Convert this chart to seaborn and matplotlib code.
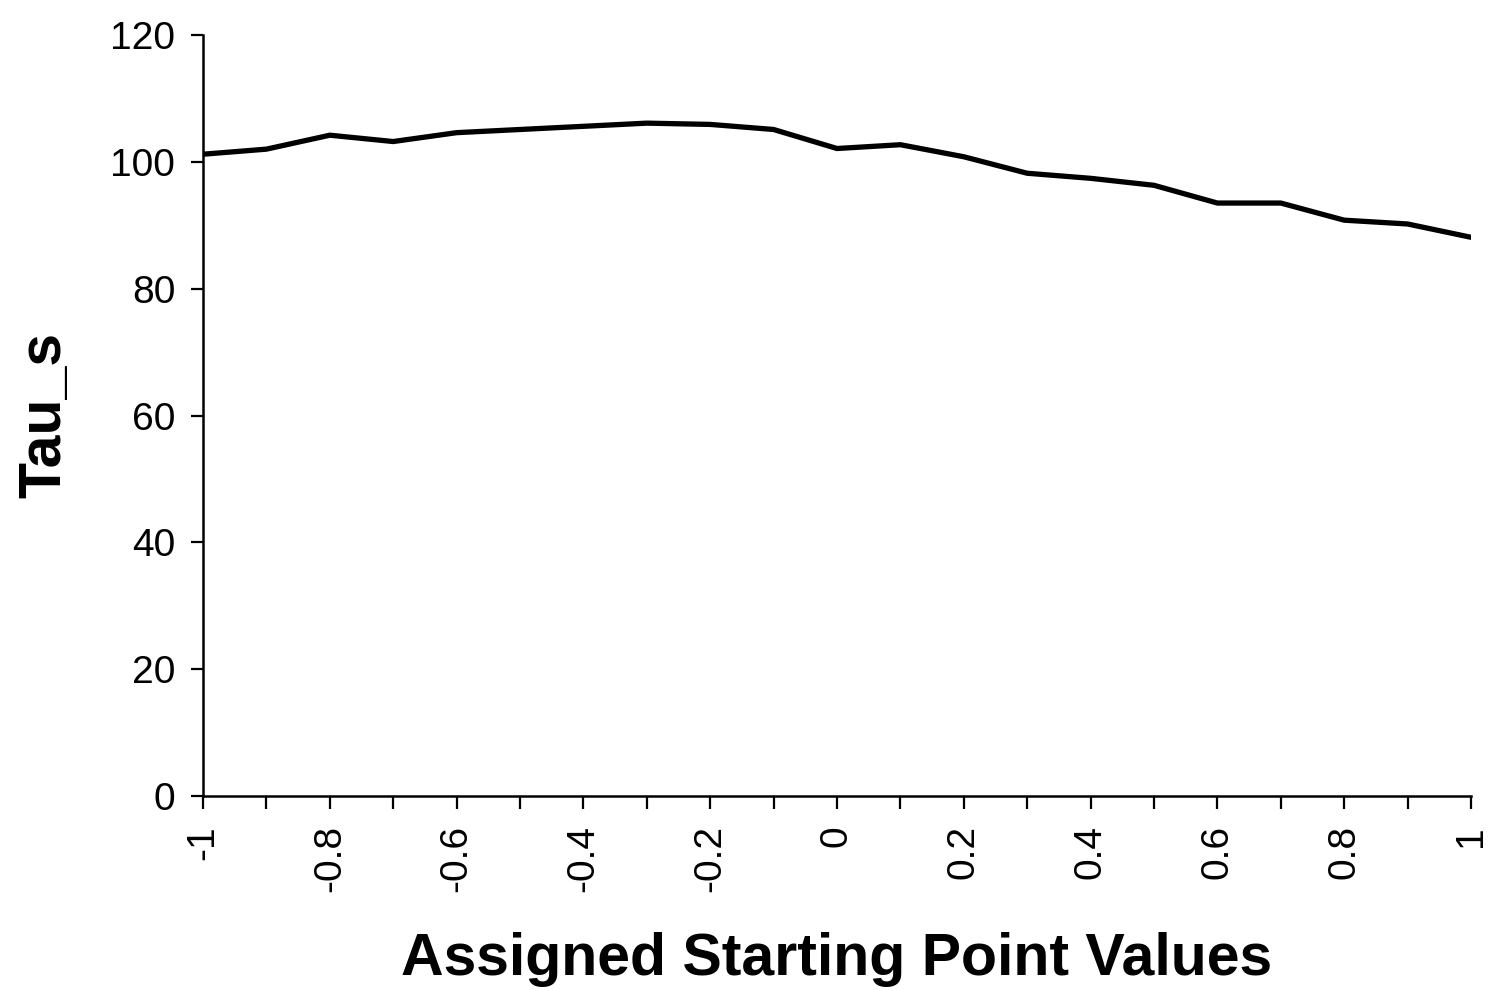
import matplotlib
matplotlib.use("Agg")
import matplotlib.pyplot as plt
import seaborn as sns
import pandas as pd

sns.set_style("ticks")
plt.rcParams["font.family"] = ["Liberation Sans", "DejaVu Sans"]
plt.rcParams["text.color"] = "black"
plt.rcParams["axes.labelcolor"] = "black"
plt.rcParams["xtick.color"] = "black"
plt.rcParams["ytick.color"] = "black"

# starting point values (categories) and the resulting Tau_s
start_points = [-1.0, -0.9, -0.8, -0.7, -0.6, -0.5, -0.4, -0.3, -0.2, -0.1, 0.0,
                0.1, 0.2, 0.3, 0.4, 0.5, 0.6, 0.7, 0.8, 0.9, 1.0]
tau_s = [101.2, 102.0, 104.2, 103.2, 104.6, 105.1, 105.6, 106.1, 105.9, 105.1, 102.1,
         102.7, 100.8, 98.2, 97.4, 96.3, 93.5, 93.5, 90.8, 90.2, 88.1]
x_tick_labels = ["-1", "", "-0.8", "", "-0.6", "", "-0.4", "", "-0.2", "", "0",
                 "", "0.2", "", "0.4", "", "0.6", "", "0.8", "", "1"]
y_ticks = [0, 20, 40, 60, 80, 100, 120]

df = pd.DataFrame({"start": start_points, "tau": tau_s})

fig = plt.figure(figsize=(14.89, 9.9), dpi=100)
ax = fig.add_axes([203 / 1489, 1 - 796 / 990, (1471 - 203) / 1489, (796 - 35) / 990])

sns.lineplot(data=df, x="start", y="tau", ax=ax, color="black", linewidth=3.8,
             solid_joinstyle="round", solid_capstyle="round")

ax.set_xlim(-1, 1)
ax.set_ylim(0, 120)
ax.set_xticks(start_points)
ax.set_xticklabels(x_tick_labels, rotation=90, fontsize=28)
ax.set_yticks(y_ticks)
ax.set_yticklabels([str(v) for v in y_ticks], fontsize=28)

ax.tick_params(axis="both", direction="out", length=9, width=1.6, color="black")
ax.tick_params(axis="x", pad=12)
ax.tick_params(axis="y", pad=11)
for side in ["top", "right"]:
    ax.spines[side].set_visible(False)
for side in ["left", "bottom"]:
    ax.spines[side].set_linewidth(1.8)
    ax.spines[side].set_color("black")

ax.set_xlabel("Assigned Starting Point Values", fontsize=42.5, fontweight="bold")
ax.set_ylabel("Tau_s", fontsize=42.5, fontweight="bold")
ax.xaxis.set_label_coords(0.5, -0.179)
ax.yaxis.set_label_coords(-0.103, 0.5)

fig.savefig("out.png", dpi=100, facecolor="white")
